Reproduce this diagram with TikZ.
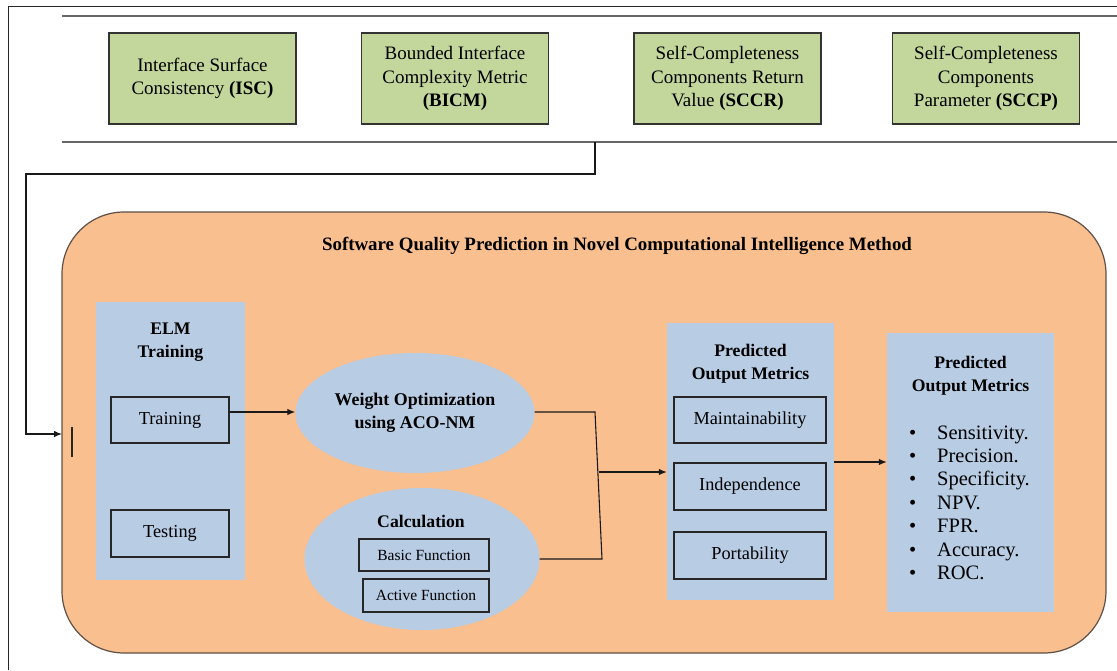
\documentclass[tikz,border=0pt]{standalone}
\usepackage{fontspec}
\setmainfont{Liberation Serif}
\usetikzlibrary{shapes.geometric,arrows.meta,calc}
\definecolor{gfill}{HTML}{C3D69B}
\definecolor{ofill}{HTML}{F9BF8F}
\definecolor{bfill}{HTML}{B8CCE4}
\definecolor{oline}{HTML}{5E5046}
\tikzset{
  greenbox/.style={draw=black!80, line width=1.3pt, fill=gfill, minimum width=187pt, minimum height=91pt, align=center, inner sep=2pt, font=\fontsize{19}{23.5}\selectfont},
  panel/.style={fill=bfill, draw=none, inner sep=0pt},
  itembox/.style={draw=black!85, line width=1.1pt, fill=bfill, inner sep=0pt, font=\fontsize{18.3}{22}\selectfont},
  smallbox/.style={draw=black!85, line width=1.1pt, fill=bfill, inner sep=0pt, font=\fontsize{15.5}{18}\selectfont},
  oval/.style={ellipse, fill=bfill, draw=none, inner sep=0pt, align=center},
  head/.style={align=center, font=\bfseries\fontsize{17.7}{23}\selectfont},
  listitem/.style={anchor=base west, inner sep=0pt, font=\fontsize{20.5}{23.4}\selectfont},
  conn/.style={draw=black!90, line width=1.1pt},
  arr/.style={conn, -{Latex[length=8pt,width=6.5pt]}},
  grayline/.style={draw=black!60, line width=2pt},
}
\begin{document}
\begin{tikzpicture}[x=1pt,y=-1pt]
\useasboundingbox (0,0) rectangle (1117,670);
% outer frame
\draw[black!85, line width=1pt] (8,670) -- (8,6) -- (1117,6);
% gray rules
\draw[grayline] (62,16) -- (1117,16);
\draw[grayline] (62,142) coordinate (rl) -- (1117,142) coordinate (rr);
% green metric boxes
\node[greenbox] (isc)  at (202.5,78.5) {Interface Surface\\Consistency \textbf{(ISC)}};
\node[greenbox] (bicm) at (455,78.5) {Bounded Interface\\Complexity Metric\\\textbf{(BICM)}};
\node[greenbox] (sccr) at (727.5,78.5) {Self-Completeness\\Components Return\\Value \textbf{(SCCR)}};
\node[greenbox] (sccp) at (986,78.5) {Self-Completeness\\Components\\Parameter \textbf{(SCCP)}};
% orange container
\node[draw=oline, line width=1.2pt, fill=ofill, rounded corners=62pt, minimum width=1044pt, minimum height=441pt, inner sep=0pt] (main) at (584,432.5) {};
\node[font=\bfseries\fontsize{18.9}{22}\selectfont] (title) at (617,246) {Software Quality Prediction in Novel Computational Intelligence Method};
% input connector
\coordinate (s) at (595,142);
\coordinate (inp) at (62,434);
\draw[conn] (s) -- (595,174) -| (26,300);
\draw[arr] (26,300) |- (inp);
\draw[black!85, line width=1.5pt] (72,427) -- (72,457);
% ELM panel
\node[panel, minimum width=149pt, minimum height=278pt] (elm) at (170.5,441) {};
\node[head] (elmt) at (170.5,342) {ELM\\Training};
\node[itembox, minimum width=118pt, minimum height=46pt] (train) at (170,420) {Training};
\node[itembox, minimum width=118pt, minimum height=47pt] (test) at (170,533.5) {Testing};
% ellipses
\node[oval, minimum width=239pt, minimum height=120pt, font=\bfseries\fontsize{17.9}{23.5}\selectfont] (wo) at (415,413) {Weight Optimization\\using ACO-NM};
\node[oval, minimum width=235pt, minimum height=142pt] (calc) at (422,559) {};
\node[head] (calct) at (421,521) {Calculation};
\node[smallbox, minimum width=130pt, minimum height=32pt] (basic) at (424,555) {Basic Function};
\node[smallbox, minimum width=126pt, minimum height=33pt] (active) at (426,595.5) {Active Function};
% middle panel
\node[panel, minimum width=167pt, minimum height=277pt] (mid) at (750.5,461.5) {};
\node[head] (midt) at (750.5,363.5) {Predicted\\Output Metrics};
\node[itembox, minimum width=152pt, minimum height=46pt] (maint) at (750,420) {Maintainability};
\node[itembox, minimum width=152pt, minimum height=47pt] (indep) at (750,486.5) {Independence};
\node[itembox, minimum width=152pt, minimum height=47pt] (port) at (750,555.5) {Portability};
% right panel
\node[panel, minimum width=167pt, minimum height=279pt] (right) at (970.5,472.5) {};
\node[head] (rightt) at (970.5,375.5) {Predicted\\Output Metrics};
\foreach \t [count=\i] in {Sensitivity., Precision., Specificity., NPV., FPR., Accuracy., ROC.} {
  \node[listitem] (bul\i) at (909, 439+23.4*\i-23.4) {\textbullet};
  \node[listitem] (item\i) at (937, 439+23.4*\i-23.4) {\t};
}
% connectors
\draw[arr] (train.east |- 0,412) -- (wo.west |- 0,412);
\coordinate (m1) at (595,412);
\coordinate (m2) at (602,559);
\draw[conn] (wo.east |- m1) -- (m1) -- (m2) -- (calc.east);
\coordinate (j) at (599,472);
\draw[arr] (j) -- (j -| mid.west);
\draw[arr] (mid.east |- 0,462) -- (right.west |- 0,462);
\end{tikzpicture}
\end{document}
